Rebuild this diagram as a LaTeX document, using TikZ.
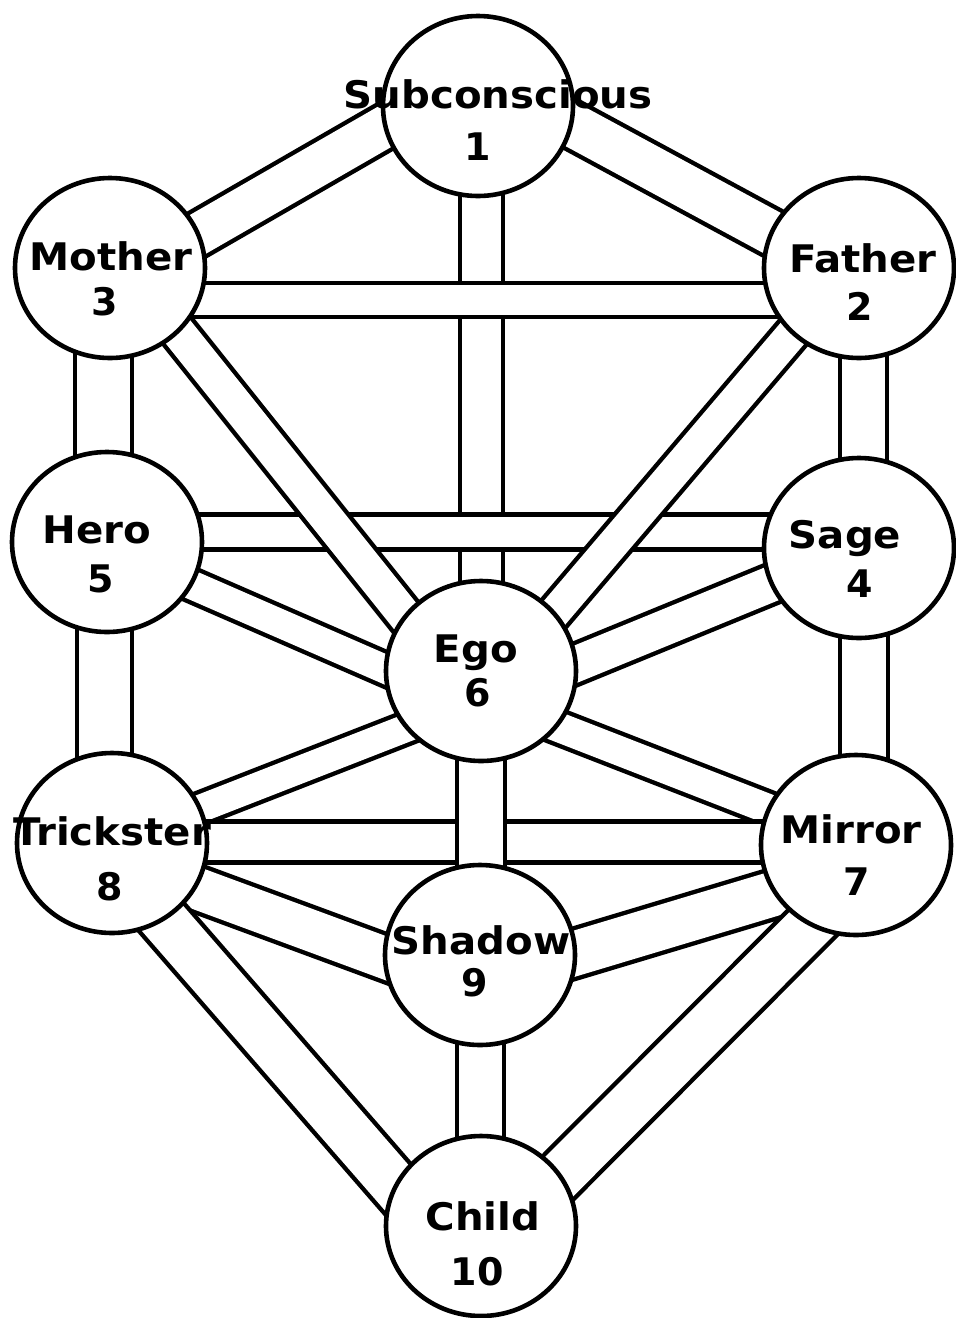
\documentclass[tikz,border=0pt]{standalone}
\usepackage{fontspec}
\usepackage{graphicx}
\setmainfont{DejaVu Sans}
\usetikzlibrary{shapes.geometric,calc}
\newcommand{\stretchtxt}[1]{\scalebox{1.06}[1]{#1}}
\tikzset{
  ball/.style={shape=ellipse, draw=black, fill=white, line width=4.6pt,
    minimum width=190pt, minimum height=180pt, inner sep=0pt},
  chan/.style={draw=black, line width=4.4pt, double=white, double distance=#1-4.4pt},
  lbl/.style={anchor=base, inner sep=0pt, font=\fontsize{38}{38}\selectfont\bfseries}
}
\begin{document}
\begin{tikzpicture}[x=1pt,y=-1pt]
\useasboundingbox (0,0) rectangle (956,1318);
% circle positions (drawn later, coordinates first)
\coordinate (c1) at (478,106);
\coordinate (c2) at (859,268);
\coordinate (c3) at (110,268);
\coordinate (c4) at (859,548);
\coordinate (c5) at (107,542);
\coordinate (c6) at (481,671);
\coordinate (c7) at (856,845);
\coordinate (c8) at (112,843);
\coordinate (c9) at (480,955);
\coordinate (c10) at (481,1226);
% channels, bottom layer first
\draw[chan=43pt] ($(c1)+(3.5,0)$) -- ($(c6)+(0.5,0)$);
\draw[chan=34pt] ($(c3)+(0,32)$) -- ($(c2)+(0,32)$);
\draw[chan=35pt] ($(c5)+(0,-10)$) -- ($(c4)+(0,-16)$);
\draw[chan=38pt] ($(c3)+(17,0)$) -- ($(c6)+(-32,0)$);
\draw[chan=36pt] ($(c2)+(-11,0)$) -- ($(c6)+(24,0)$);
\draw[chan=48pt] ($(c1)+(0,-32)$) -- ($(c2)+(0,12)$);
\draw[chan=46pt] ($(c1)+(0,-33)$) -- ($(c3)+(0,17)$);
\draw[chan=47pt] ($(c2)+(4.5,0)$) -- ($(c4)+(4.5,0)$);
\draw[chan=57pt] ($(c3)+(-6.5,0)$) -- ($(c5)+(-3.5,0)$);
\draw[chan=33pt] ($(c5)+(0,6)$) -- ($(c6)+(0,40)$);
\draw[chan=40pt] ($(c4)+(0,0)$) -- ($(c6)+(0,32)$);
\draw[chan=55pt] ($(c5)+(-2.5,0)$) -- ($(c8)+(-7.5,0)$);
\draw[chan=48pt] ($(c4)+(5,0)$) -- ($(c7)+(8,0)$);
\draw[chan=32pt] ($(c6)+(0,28)$) -- ($(c8)+(0,0)$);
\draw[chan=34pt] ($(c6)+(0,26)$) -- ($(c7)+(0,-2)$);
\draw[chan=41pt] ($(c8)+(0,-1)$) -- ($(c7)+(0,-3)$);
\draw[chan=48pt] ($(c6)+(0,0)$) -- ($(c9)+(1,0)$);
\draw[chan=46pt] ($(c8)+(0,14)$) -- ($(c9)+(0,38)$);
\draw[chan=49pt] ($(c9)+(0,27)$) -- ($(c7)+(0,24)$);
\draw[chan=52pt] ($(c8)+(-15,0)$) -- ($(c10)+(-51,0)$);
\draw[chan=52pt] ($(c7)+(34,0)$) -- ($(c10)+(29,0)$);
\draw[chan=47pt] ($(c9)+(0.5,0)$) -- ($(c10)+(-0.5,0)$);
% spheres
\node[ball] (n1) at (c1) {};
\node[ball] (n2) at (c2) {};
\node[ball] (n3) at (c3) {};
\node[ball] (n4) at (c4) {};
\node[ball] (n5) at (c5) {};
\node[ball] (n6) at (c6) {};
\node[ball] (n7) at (c7) {};
\node[ball] (n8) at (c8) {};
\node[ball] (n9) at (c9) {};
\node[ball] (n10) at (c10) {};
% labels
\node[lbl] (w1) at (498,108) {\stretchtxt{Subconscious}};
\node[lbl] (d1) at (478,160) {1};
\node[lbl] (w3) at (111,270) {\stretchtxt{Mother}};
\node[lbl] (d3) at (105,315) {3};
\node[lbl] (w2) at (863,272) {\stretchtxt{Father}};
\node[lbl] (d2) at (860,320) {2};
\node[lbl] (w5) at (97,543) {\stretchtxt{Hero}};
\node[lbl] (d5) at (101,592) {5};
\node[lbl] (w4) at (845,548) {\stretchtxt{Sage}};
\node[lbl] (d4) at (860,597) {4};
\node[lbl] (w6) at (476,662) {\stretchtxt{Ego}};
\node[lbl] (d6) at (478,706) {6};
\node[lbl] (w8) at (112,845) {\stretchtxt{Trickster}};
\node[lbl] (d8) at (110,900) {8};
\node[lbl] (w7) at (851,843) {\stretchtxt{Mirror}};
\node[lbl] (d7) at (857,895) {7};
\node[lbl] (w9) at (481,954) {\stretchtxt{Shadow}};
\node[lbl] (d9) at (475,996) {9};
\node[lbl] (w10) at (483,1230) {\stretchtxt{Child}};
\node[lbl] (d10) at (477,1285) {10};
\end{tikzpicture}
\end{document}
